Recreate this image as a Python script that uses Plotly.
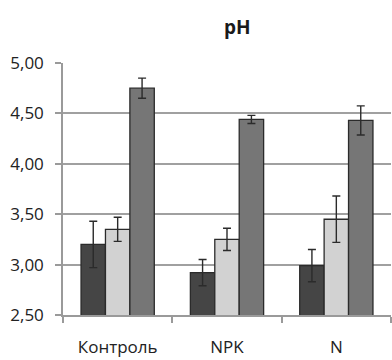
import plotly.graph_objects as go

categories = ["Контроль", "NPK", "N"]
series_a = [3.20, 2.92, 2.99]
series_a_err = [0.23, 0.13, 0.16]
series_b = [3.35, 3.25, 3.45]
series_b_err = [0.12, 0.11, 0.23]
series_c = [4.75, 4.44, 4.43]
series_c_err = [0.10, 0.04, 0.145]
y_ticks = [2.5, 3.0, 3.5, 4.0, 4.5, 5.0]

colors = ["#454545", "#d2d2d2", "#767676"]
fig = go.Figure()
for vals, errs, col in zip([series_a, series_b, series_c],
                           [series_a_err, series_b_err, series_c_err], colors):
    fig.add_trace(go.Bar(
        x=categories, y=vals,
        marker=dict(color=col, line=dict(color="#2b2b2b", width=1.3)),
        error_y=dict(type="data", array=errs, visible=True,
                     color="#2b2b2b", thickness=1.4, width=4),
        showlegend=False,
    ))

fig.update_layout(
    width=392, height=360,
    margin=dict(l=63, r=1, t=63, b=45),
    paper_bgcolor="white", plot_bgcolor="white",
    separators=", ",
    barmode="group", bargap=0.33, bargroupgap=0,
    font=dict(family="Open Sans, DejaVu Sans, sans-serif", color="#222", size=17),
    title=dict(text="<b>pH</b>", x=0.605, xanchor="center", y=0.925, yanchor="middle",
               font=dict(size=19, color="#1a1a1a")),
)
fig.update_xaxes(
    type="category", tickson="boundaries", ticks="outside", ticklen=6,
    tickcolor="#9a9a9a", tickwidth=1.5,
    showline=True, linecolor="#9a9a9a", linewidth=1.5,
    showgrid=False, tickfont=dict(size=17), ticklabelstandoff=16,
)
fig.update_yaxes(
    range=[2.5, 5.0], tickvals=y_ticks, tickformat=".2f",
    ticks="outside", ticklen=6, tickcolor="#9a9a9a", tickwidth=1.5,
    showline=True, linecolor="#9a9a9a", linewidth=1.5,
    showgrid=True, gridcolor="#a0a0a0", gridwidth=1.5,
    zeroline=False, tickfont=dict(size=17), ticklabelstandoff=8,
)

fig.write_html("out.html")
